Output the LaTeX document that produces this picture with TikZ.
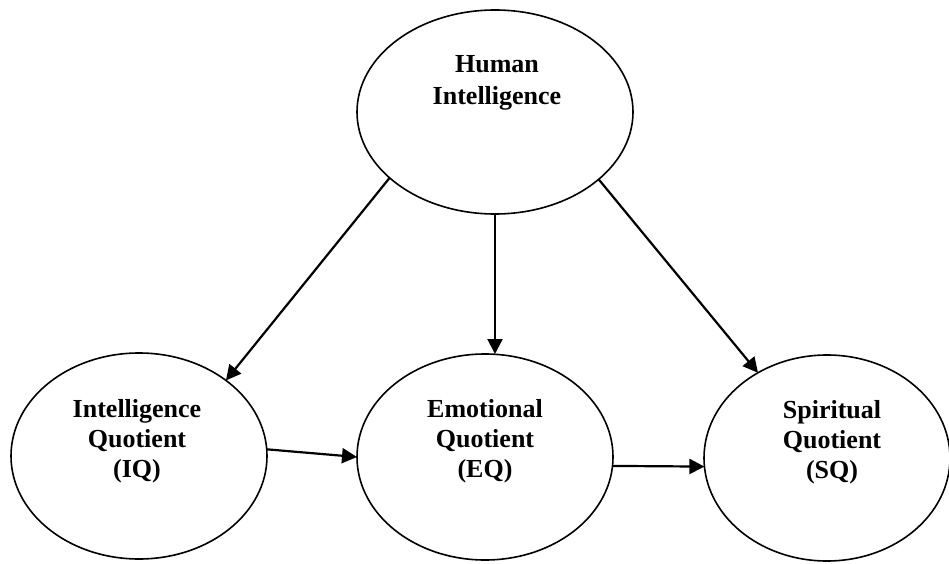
\documentclass[tikz,border=0pt]{standalone}
\usepackage{fontspec}
\setmainfont{Liberation Serif}
\usetikzlibrary{shapes.geometric,arrows.meta}
\begin{document}
\begin{tikzpicture}[x=1pt,y=-1pt,
  ell/.style={draw,ellipse,line width=1.6pt,inner sep=0pt,outer sep=0pt},
  lbl/.style={align=center,inner sep=0pt,font=\fontsize{26}{30}\selectfont\bfseries},
  arr/.style={line width=2.2pt,-{Triangle[length=15pt,width=15pt]}}]
\useasboundingbox[fill=white] (0,0) rectangle (949,564);
\node[ell,minimum width=276pt,minimum height=204pt] (top) at (495,112) {};
\node[ell,minimum width=256pt,minimum height=206pt] (iq) at (139,456) {};
\node[ell,minimum width=256pt,minimum height=206pt] (eq) at (485,457) {};
\node[ell,minimum width=246pt,minimum height=206pt] (sq) at (827,458) {};
\node[lbl,font=\fontsize{26}{32}\selectfont\bfseries] (ttop) at (497,83) {Human\\Intelligence};
\node[lbl] (tiq) at (137,441.5) {Intelligence\\Quotient\\(IQ)};
\node[lbl] (teq) at (485,441.5) {Emotional\\Quotient\\(EQ)};
\node[lbl] (tsq) at (832,442) {Spiritual\\Quotient\\(SQ)};
\draw[arr] (top.212) -- (iq.41);
\draw[arr] (top.south) -- (top.south |- eq.north);
\draw[arr] (top.327.5) -- (sq.129);
\draw[arr] (iq.3) -- (eq.west);
\draw[arr] (eq.-4) -- (sq.184);
\end{tikzpicture}
\end{document}
